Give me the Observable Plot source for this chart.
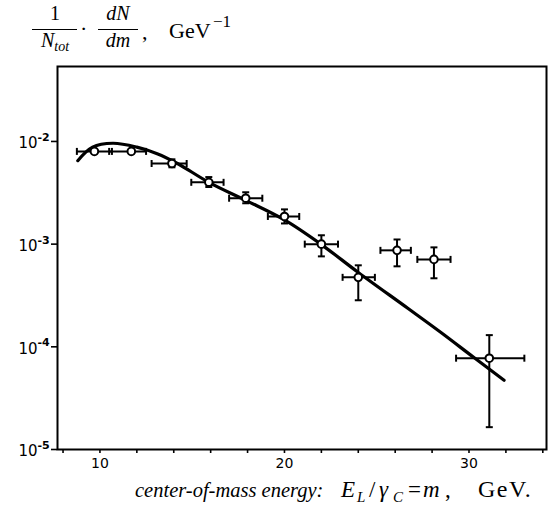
<!DOCTYPE html>
<html>
<head>
<meta charset="utf-8">
<script src="https://cdn.jsdelivr.net/npm/d3@7"></script>
<script src="https://cdn.jsdelivr.net/npm/@observablehq/plot@0.6"></script>
<style>
  body { margin: 0; background: #fff; }
  #wrap { width: 548px; height: 512px; position: relative; overflow: hidden; }
  #title { height: 58px; position: relative; }
  .t { position: absolute; font-family: "Liberation Serif", "DejaVu Serif", serif; color: #000; line-height: 1; white-space: nowrap; }
  .bar { position: absolute; height: 0; border-top: 1.4px solid #000; }
  #xlabel { position: absolute; left: 0; top: 0; width: 548px; height: 512px; pointer-events: none; }
</style>
</head>
<body>
<div id="wrap">
  <div id="title"></div>
  <div id="chart"></div>
  <div id="xlabel"></div>
</div>
<script>
// Measured data points
const energy      = [9.7, 11.7, 13.9, 15.9, 17.9, 20.0, 22.0, 24.0, 26.1, 28.1, 31.1];
const density     = [0.0080, 0.0080, 0.0061, 0.0040, 0.0028, 0.00186, 0.00100, 0.000475, 0.00087, 0.00071, 0.0000775];
const energyLow   = [8.75, 10.5, 12.8, 14.95, 17.0, 19.1, 21.1, 23.15, 25.2, 27.2, 29.3];
const energyHigh  = [10.65, 12.5, 14.7, 16.7, 18.8, 20.8, 22.9, 24.9, 26.85, 29.0, 33.0];
const densityLow  = [0.0080, 0.0080, 0.0056, 0.0036, 0.0025, 0.00159, 0.00076, 0.000284, 0.000608, 0.000465, 0.0000165];
const densityHigh = [0.0080, 0.0080, 0.0067, 0.0045, 0.0032, 0.00218, 0.00122, 0.000622, 0.00111, 0.00093, 0.00013];

// Fitted curve
const fitEnergy  = [8.8, 9.6, 10.7, 12.0, 13.1, 14.2, 15.9, 17.9, 20.0, 22.0, 24.0, 26.7, 28.5, 30.25, 31.9];
const fitDensity = [0.0065, 0.0088, 0.0096, 0.0088, 0.0076, 0.0061, 0.0040, 0.00267, 0.00172, 0.00099, 0.00053, 0.000236, 0.000137, 0.0000790, 0.0000473];

// Axis ticks
const xTicks = [8, 10, 12, 14, 16, 18, 20, 22, 24, 26, 28, 30, 32, 34];
const xTickLabels = {10: "10", 20: "20", 30: "30"};
const yTicks = [1e-2, 1e-3, 1e-4, 1e-5];
const yTickBase = "10";
const yTickExponents = ["-2", "-3", "-4", "-5"];

// Text helper: place text so its baseline sits at y
function put(parent, html, x, baseline, size, opts = {}) {
  const el = document.createElement("div");
  el.className = "t";
  el.innerHTML = html;
  el.style.fontSize = size + "px";
  if (opts.italic) el.style.fontStyle = "italic";
  if (opts.spacing) el.style.letterSpacing = opts.spacing + "px";
  el.style.top = (baseline - size * 0.8375) + "px";
  if (opts.center) { el.style.left = (x - 60) + "px"; el.style.width = "120px"; el.style.textAlign = "center"; }
  else el.style.left = x + "px";
  parent.appendChild(el);
}
function bar(parent, x1, x2, y) {
  const el = document.createElement("div");
  el.className = "bar";
  el.style.left = x1 + "px"; el.style.width = (x2 - x1) + "px"; el.style.top = (y - 0.7) + "px";
  parent.appendChild(el);
}

const title = document.getElementById("title");
put(title, "1", 55, 20, 20, {center: true});
bar(title, 32, 77, 30);
put(title, "<i>N</i><i style='font-size:14px;position:relative;top:4px'>tot</i>", 55, 47, 20, {center: true});
put(title, "·", 80, 36, 22);
put(title, "<i>dN</i>", 118, 20, 20, {center: true});
bar(title, 98, 138, 30);
put(title, "<i>dm</i>", 118, 47, 20, {center: true});
put(title, ",", 142, 39, 22);
put(title, "GeV", 169, 38, 22);
put(title, "−1", 213, 27, 17);

const xl = document.getElementById("xlabel");
put(xl, "center-of-mass energy:", 135, 497, 20.5, {italic: true});
put(xl, "E", 341, 497, 23, {italic: true});
put(xl, "L", 357, 503, 15, {italic: true});
put(xl, "/", 369, 497, 23);
put(xl, "γ", 379, 497, 23, {italic: true});
put(xl, "C", 393, 503, 15, {italic: true});
put(xl, "=", 408, 497, 23);
put(xl, "m", 423, 497, 23, {italic: true});
put(xl, ",", 445, 497, 23);
put(xl, "GeV.", 478, 497, 24, {spacing: 1.5});

const points = energy.map((e, i) => ({
  x: e, y: density[i], xlo: energyLow[i], xhi: energyHigh[i], ylo: densityLow[i], yhi: densityHigh[i]
}));
const fit = fitEnergy.map((e, i) => ({x: e, y: fitDensity[i]}));
const vPoints = points.filter(d => d.ylo !== d.yhi);

const vcap = {draw(ctx, size) { ctx.moveTo(0, -3.5); ctx.lineTo(0, 3.5); }};
const hcap = {draw(ctx, size) { ctx.moveTo(-3.5, 0); ctx.lineTo(3.5, 0); }};

const chart = Plot.plot({
  width: 548,
  height: 425,
  marginTop: 8,
  marginLeft: 57,
  marginRight: 2,
  marginBottom: 34,
  style: {background: "white", color: "black", overflow: "visible"},
  x: {domain: [7.7, 34.2]},
  y: {type: "log", domain: [1e-5, 0.0537]},
  marks: [
    Plot.axisY({ticks: yTicks, tickFormat: () => "", tickSize: 6, strokeWidth: 1.6, label: null}),
    Plot.text(yTicks, {y: d => d, frameAnchor: "left", text: () => yTickBase, textAnchor: "end", dx: -20, dy: 2,
      fontSize: 15, fontFamily: "DejaVu Sans", fill: "black"}),
    Plot.text(yTicks, {y: d => d, frameAnchor: "left", text: (d, i) => yTickExponents[i], textAnchor: "start", dx: -20, dy: -4,
      fontSize: 11, fontFamily: "DejaVu Sans", fontWeight: "bold", fill: "black"}),
    Plot.axisX({ticks: xTicks, tickFormat: d => xTickLabels[d] ?? "", tickSize: 4, tickPadding: 5,
      fontSize: 14, fontFamily: "DejaVu Sans", strokeWidth: 1.6, label: null}),
    Plot.line(fit, {x: "x", y: "y", curve: "catmull-rom", stroke: "black", strokeWidth: 3.2}),
    Plot.link(points, {x1: "xlo", x2: "xhi", y1: "y", y2: "y", stroke: "black", strokeWidth: 2}),
    Plot.link(vPoints, {x1: "x", x2: "x", y1: "ylo", y2: "yhi", stroke: "black", strokeWidth: 2}),
    Plot.dot(points, {x: "xlo", y: "y", symbol: vcap, fill: "none", stroke: "black", strokeWidth: 2}),
    Plot.dot(points, {x: "xhi", y: "y", symbol: vcap, fill: "none", stroke: "black", strokeWidth: 2}),
    Plot.dot(vPoints, {x: "x", y: "ylo", symbol: hcap, fill: "none", stroke: "black", strokeWidth: 2}),
    Plot.dot(vPoints, {x: "x", y: "yhi", symbol: hcap, fill: "none", stroke: "black", strokeWidth: 2}),
    Plot.dot(points, {x: "x", y: "y", r: 3.8, fill: "white", stroke: "black", strokeWidth: 2}),
    Plot.frame({stroke: "black", strokeWidth: 2})
  ]
});
document.getElementById("chart").appendChild(chart);
</script>
</body>
</html>
